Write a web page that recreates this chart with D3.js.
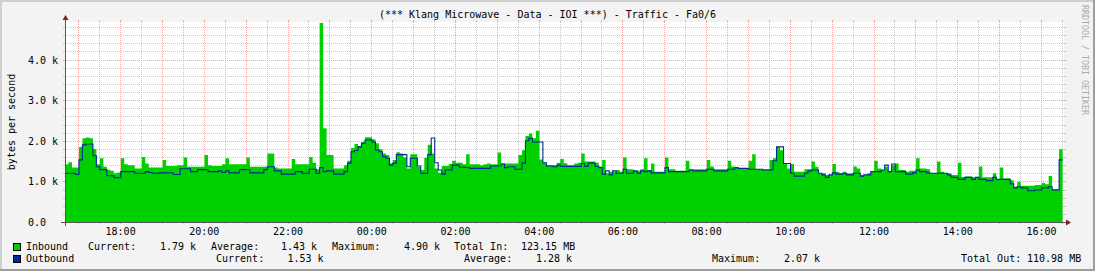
<!DOCTYPE html>
<html><head><meta charset="utf-8">
<script src="https://cdn.jsdelivr.net/npm/d3@7/dist/d3.min.js"></script>
<style>
html,body{margin:0;padding:0;background:#f3f3f3;overflow:hidden}
svg{display:block}
text{font-family:"DejaVu Sans Mono",monospace;font-size:10px;fill:#000}
</style>
</head><body>
<svg id="chart" width="1095" height="271"></svg>
<script>
// ---------- data ----------
const title = "(*** Klang Microwave - Data - IOI ***) - Traffic - Fa0/6";
const yAxisTitle = "bytes per second";
const watermark = "RRDTOOL / TOBI OETIKER";
const startTime = new Date(2020, 0, 1, 16, 41);
const endTime = new Date(2020, 0, 2, 16, 33);
const stepMinutes = 5;
// values in k bytes per second, one per 5 minutes
const inbound = [
1.42,1.47,1.34,1.34,1.85,2.06,2.08,2.06,1.80,1.42,1.57,1.36,
1.28,1.26,1.20,1.22,1.57,1.42,1.40,1.40,1.32,1.32,1.60,1.44,
1.34,1.34,1.34,1.34,1.53,1.38,1.38,1.38,1.40,1.40,1.59,1.36,
1.36,1.36,1.36,1.36,1.65,1.40,1.38,1.38,1.38,1.42,1.57,1.42,
1.42,1.42,1.42,1.42,1.59,1.36,1.36,1.36,1.36,1.36,1.69,1.69,
1.34,1.32,1.32,1.32,1.32,1.55,1.42,1.42,1.42,1.42,1.60,1.46,
1.30,4.90,2.31,1.65,1.65,1.32,1.32,1.32,1.40,1.51,1.82,1.92,
1.87,1.97,2.09,2.09,2.04,1.94,1.79,1.69,1.65,1.45,1.53,1.72,
1.69,1.59,1.32,1.67,1.67,1.36,1.28,1.58,1.90,1.69,1.32,1.21,
1.38,1.38,1.43,1.51,1.46,1.46,1.42,1.67,1.42,1.42,1.42,1.40,
1.42,1.44,1.42,1.42,1.71,1.44,1.44,1.44,1.44,1.44,1.65,1.77,
2.12,2.18,2.06,2.25,1.54,1.46,1.40,1.40,1.40,1.46,1.55,1.45,
1.40,1.40,1.44,1.46,1.69,1.49,1.49,1.49,1.46,1.36,1.53,1.20,
1.24,1.24,1.28,1.24,1.59,1.30,1.30,1.26,1.26,1.30,1.57,1.28,
1.44,1.24,1.24,1.24,1.59,1.30,1.30,1.26,1.26,1.26,1.51,1.30,
1.30,1.30,1.30,1.30,1.53,1.37,1.30,1.30,1.30,1.30,1.51,1.37,
1.33,1.33,1.33,1.33,1.51,1.67,1.30,1.30,1.30,1.30,1.53,1.57,
1.85,1.77,1.44,1.32,1.43,1.24,1.24,1.24,1.30,1.30,1.49,1.36,
1.20,1.20,1.16,1.16,1.43,1.24,1.20,1.24,1.20,1.20,1.37,1.32,
1.16,1.16,1.20,1.24,1.51,1.32,1.28,1.36,1.24,1.40,1.44,1.28,
1.28,1.24,1.26,1.26,1.57,1.32,1.32,1.30,1.20,1.20,1.49,1.24,
1.20,1.20,1.16,1.16,1.46,1.11,1.12,1.12,1.10,1.10,1.37,1.10,
1.10,1.10,1.20,1.05,1.34,1.07,1.07,1.03,0.87,0.99,0.89,0.89,
0.89,0.89,0.91,0.91,0.96,0.93,1.13,0.81,0.81,1.79
];
const outbound = [
1.20,1.20,1.20,1.17,1.53,1.90,1.92,1.92,1.63,1.36,1.29,1.29,
1.14,1.14,1.09,1.09,1.24,1.24,1.24,1.24,1.20,1.20,1.20,1.24,
1.22,1.20,1.20,1.21,1.21,1.21,1.21,1.17,1.17,1.31,1.31,1.31,
1.24,1.24,1.29,1.29,1.29,1.24,1.24,1.24,1.26,1.22,1.26,1.21,
1.21,1.21,1.29,1.29,1.29,1.21,1.21,1.21,1.21,1.29,1.36,1.36,
1.26,1.26,1.18,1.18,1.18,1.18,1.24,1.24,1.20,1.20,1.30,1.30,
1.20,1.34,1.24,1.26,1.26,1.18,1.18,1.18,1.24,1.45,1.73,1.76,
1.85,1.94,2.02,2.02,1.97,1.77,1.73,1.61,1.57,1.40,1.45,1.66,
1.66,1.66,1.36,1.57,1.57,1.38,1.20,1.20,1.66,2.07,1.46,1.28,
1.18,1.28,1.28,1.40,1.40,1.35,1.35,1.35,1.32,1.32,1.32,1.32,
1.32,1.32,1.38,1.38,1.38,1.43,1.34,1.36,1.36,1.30,1.30,1.45,
2.00,2.06,1.97,1.97,1.97,1.46,1.38,1.38,1.36,1.40,1.37,1.37,
1.37,1.37,1.37,1.37,1.44,1.37,1.45,1.45,1.37,1.34,1.18,1.26,
1.16,1.26,1.20,1.20,1.30,1.20,1.20,1.26,1.20,1.26,1.24,1.26,
1.21,1.21,1.21,1.21,1.34,1.24,1.24,1.24,1.24,1.24,1.24,1.28,
1.26,1.26,1.26,1.26,1.30,1.30,1.26,1.26,1.26,1.26,1.30,1.30,
1.34,1.32,1.32,1.32,1.30,1.30,1.30,1.30,1.28,1.28,1.28,1.51,
1.85,1.85,1.44,1.44,1.20,1.13,1.13,1.13,1.20,1.26,1.28,1.28,
1.20,1.16,1.10,1.16,1.21,1.18,1.18,1.20,1.16,1.16,1.20,1.20,
1.13,1.16,1.16,1.24,1.24,1.24,1.28,1.40,1.24,1.43,1.24,1.24,
1.24,1.18,1.18,1.21,1.28,1.24,1.24,1.21,1.20,1.20,1.20,1.20,
1.20,1.16,1.10,1.10,1.05,1.05,1.10,1.10,1.05,1.10,1.05,1.05,
1.02,1.02,1.10,1.05,1.05,1.05,1.05,0.94,0.84,0.87,0.84,0.84,
0.77,0.77,0.79,0.79,0.84,0.84,0.87,0.79,0.79,1.53
];
const yTickValues = [0, 1, 2, 3, 4];
const yTickLabels = ["0.0", "1.0 k", "2.0 k", "3.0 k", "4.0 k"];
const seriesNames = ["Inbound", "Outbound"];
const seriesColors = ["#00CF00", "#002A97"];
const legendInbound = ["Current:", "1.79 k", "Average:", "1.43 k", "Maximum:", "4.90 k", "Total In:", "123.15 MB"];
const legendOutbound = ["Current:", "1.53 k", "Average:", "1.28 k", "Maximum:", "2.07 k", "Total Out:", "110.98 MB"];

// ---------- layout ----------
const W = 1095, H = 271;
const L = 65, R = 1064, T = 22, B = 222;
const svg = d3.select("#chart");

const x = d3.scaleTime().domain([startTime, endTime]).range([L, R]);
const y = d3.scaleLinear().domain([0, 4.926]).range([B, T]);

// frame / background
svg.append("rect").attr("width", W).attr("height", H).attr("fill", "#f3f3f3");
svg.append("rect").attr("x", 0).attr("y", 0).attr("width", W).attr("height", 2).attr("fill", "#cfcfcf");
svg.append("rect").attr("x", 0).attr("y", 0).attr("width", 2).attr("height", H).attr("fill", "#cfcfcf");
svg.append("rect").attr("x", 0).attr("y", H - 2).attr("width", W).attr("height", 2).attr("fill", "#9e9e9e");
svg.append("rect").attr("x", W - 2).attr("y", 0).attr("width", 2).attr("height", H).attr("fill", "#9e9e9e");

svg.append("rect").attr("x", L).attr("y", T).attr("width", R - L).attr("height", B - T).attr("fill", "#ffffff");

const gridMinor = "#c8c8c8", gridMajor = "#f0a8a8";
const grid = svg.append("g").attr("shape-rendering", "crispEdges");

// vertical grid
const minorTimes = d3.timeMinute.every(30).range(startTime, endTime);
minorTimes.forEach(t => {
  const major = t.getMinutes() === 0;
  const xx = Math.round(x(t)) + 0.5;
  const c = major ? gridMajor : gridMinor;
  grid.append("line").attr("x1", xx).attr("x2", xx).attr("y1", T).attr("y2", B)
    .attr("stroke", c).attr("stroke-dasharray", "1,1");
  grid.append("line").attr("x1", xx).attr("x2", xx).attr("y1", T - 2).attr("y2", T).attr("stroke", c);
  grid.append("line").attr("x1", xx).attr("x2", xx).attr("y1", B).attr("y2", B + 2).attr("stroke", c);
});
// horizontal grid
d3.range(1, 25).map(k => k * 0.2).forEach(v => {
  const major = Math.abs(v - Math.round(v)) < 1e-6;
  const yy = Math.round(y(v)) + 0.5;
  const c = major ? gridMajor : gridMinor;
  grid.append("line").attr("x1", L).attr("x2", R).attr("y1", yy).attr("y2", yy)
    .attr("stroke", c).attr("stroke-dasharray", "1,1");
  grid.append("line").attr("x1", L - 2).attr("x2", L).attr("y1", yy).attr("y2", yy).attr("stroke", c);
  grid.append("line").attr("x1", R).attr("x2", R + 2).attr("y1", yy).attr("y2", yy).attr("stroke", c);
});

// data
const toPoints = arr => {
  const pts = arr.map((v, i) => [d3.timeMinute.offset(startTime, i * stepMinutes), v]);
  pts.push([d3.timeMinute.offset(startTime, arr.length * stepMinutes), arr[arr.length - 1]]);
  return pts;
};
const inPts = toPoints(inbound), outPts = toPoints(outbound);

const area = d3.area().curve(d3.curveStepAfter)
  .x(d => x(d[0])).y0(y(0)).y1(d => y(d[1]));
svg.append("path").datum(inPts).attr("d", area).attr("fill", seriesColors[0]);

const line = d3.line().curve(d3.curveStepAfter).x(d => x(d[0])).y(d => y(d[1]));
svg.append("path").datum(outPts).attr("d", line).attr("fill", "none")
  .attr("stroke", seriesColors[1]).attr("stroke-width", 1.1);

// axes
const axisColor = "#555555", arrowColor = "#7f1f1f";
svg.append("line").attr("x1", L - 4).attr("x2", R + 3).attr("y1", B + 0.5).attr("y2", B + 0.5)
  .attr("stroke", axisColor).attr("shape-rendering", "crispEdges");
svg.append("line").attr("x1", L + 0.5).attr("x2", L + 0.5).attr("y1", B + 4).attr("y2", T - 3)
  .attr("stroke", axisColor).attr("shape-rendering", "crispEdges");
svg.append("path").attr("d", `M${R + 2},${B - 2.5}L${R + 2},${B + 3.5}L${R + 7},${B + 0.5}Z`).attr("fill", arrowColor);
svg.append("path").attr("d", `M${L - 2.5},${T - 2}L${L + 3.5},${T - 2}L${L + 0.5},${T - 7}Z`).attr("fill", arrowColor);

// x labels
d3.timeHour.every(2).range(startTime, endTime).forEach(t => {
  svg.append("text").attr("x", x(t) + 0.5).attr("y", 235).attr("text-anchor", "middle")
    .text(d3.timeFormat("%H:%M")(t));
});
// y labels
yTickValues.forEach((v, i) => {
  svg.append("text").attr("x", 28).attr("y", Math.round(y(v)) + 3.5).text(yTickLabels[i]);
});

// titles
svg.append("text").attr("x", 547.5).attr("y", 18).attr("text-anchor", "middle").text(title);
svg.append("text").attr("transform", `translate(15,${(T + B) / 2}) rotate(-90)`)
  .attr("text-anchor", "middle").text(yAxisTitle);
svg.append("text").attr("transform", "translate(1082,5) rotate(90)")
  .style("font-size", "8.3px").style("fill", "#aaaaaa").text(watermark);

// legend
const row1X = [88, 160, 211, 281, 332, 404, 454, 521];
const row2X = [216, 287.5, 464, 536, 712, 784, 961, 1027];
[[legendInbound, row1X, 250], [legendOutbound, row2X, 262]].forEach(([items, xs, by], r) => {
  svg.append("rect").attr("x", 13.5).attr("y", by - 6.5).attr("width", 7).attr("height", 7)
    .attr("fill", seriesColors[r]).attr("stroke", "#000").attr("shape-rendering", "crispEdges");
  svg.append("text").attr("x", 26).attr("y", by).text(seriesNames[r]);
  items.forEach((s, i) => svg.append("text").attr("x", xs[i]).attr("y", by).attr("xml:space", "preserve").text(s));
});
</script>
</body></html>
